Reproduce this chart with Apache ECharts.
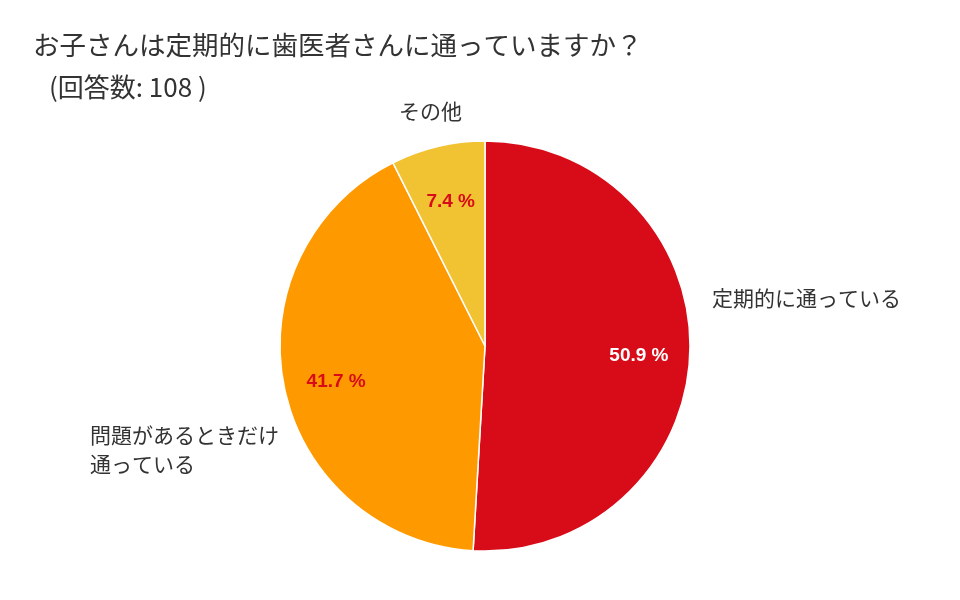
<!DOCTYPE html>
<html><head><meta charset="utf-8">
<script src="https://cdn.jsdelivr.net/npm/echarts@6/dist/echarts.min.js"></script>
<style>html,body{margin:0;padding:0;background:#fff}#c{width:960px;height:600px}</style>
</head><body><div id="c"></div>
<script>
const titleText = 'お子さんは定期的に歯医者さんに通っていますか？';
const subText = '(回答数: 108 )';
const categories = ['定期的に通っている', '問題があるときだけ\n通っている', 'その他'];
const counts = [55, 45, 8];
const colors = ['#D80C18', '#FF9900', '#F1C232'];
const pctColors = ['#FFFFFF', '#D80C18', '#D80C18'];

const total = counts.reduce((a, b) => a + b, 0);
const pieData = categories.map((n, i) => ({ name: n, value: counts[i], itemStyle: { color: colors[i] } }));
const labelData = categories.map((n, i) => ({
  name: n, value: counts[i],
  label: { color: pctColors[i] }
}));

const chart = echarts.init(document.getElementById('c'));
const cx = 485, cy = 346, R = 205;
const jp = '"Noto Sans CJK JP"';
chart.setOption({
  animation: false,
  backgroundColor: '#fff',
  title: [
    { text: titleText, left: 28, top: 27, textStyle: { fontFamily: 'Noto Sans CJK JP', fontSize: 26.5, fontWeight: 'normal', color: '#333' } },
    { text: subText, left: 44, top: 69, textStyle: { fontFamily: 'Noto Sans CJK JP', fontSize: 26, fontWeight: 'normal', color: '#333' } }
  ],
  series: [
    {
      type: 'pie', center: [cx, cy], radius: [0, R], startAngle: 90, clockwise: true,
      silent: true,
      itemStyle: { borderColor: '#fff', borderWidth: 1.5 },
      label: { show: false }, labelLine: { show: false },
      data: pieData
    },
    {
      type: 'pie', center: [cx, cy], radius: [95, R], startAngle: 90, clockwise: true,
      silent: true,
      itemStyle: { color: 'rgba(0,0,0,0)', borderWidth: 0 },
      label: {
        show: true, position: 'inside',
        formatter: p => (p.value / total * 100).toFixed(1) + ' %',
        fontFamily: 'Liberation Sans, Arial', fontWeight: 'bold', fontSize: 19
      },
      labelLayout: { dx: 1, dy: 5 },
      labelLine: { show: false },
      data: labelData
    }
  ],
  graphic: [
    { type: 'text', left: 712, top: 288, style: { text: categories[0], font: '21px ' + jp, fill: '#333' } },
    { type: 'text', left: 90, top: 421, style: { text: categories[1], font: '21px ' + jp, fill: '#333', lineHeight: 29 } },
    { type: 'text', left: 399, top: 101, style: { text: categories[2], font: '21px ' + jp, fill: '#333' } }
  ]
});
</script></body></html>
